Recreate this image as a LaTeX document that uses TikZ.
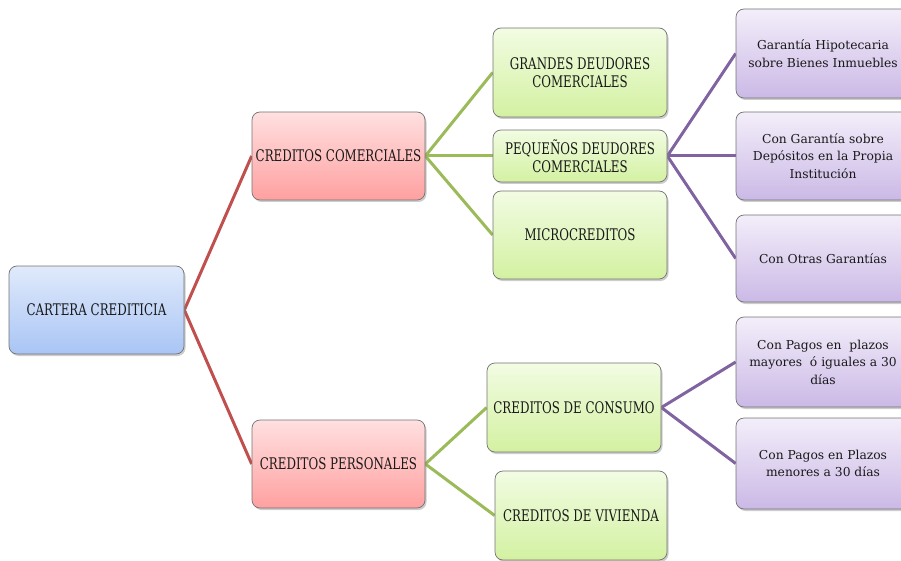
\documentclass[tikz,border=0pt]{standalone}
\usepackage{fontspec}
\setmainfont{DejaVu Serif}
\newfontfamily\capsfont[FakeStretch=0.74]{DejaVu Serif}
\usetikzlibrary{shadows,backgrounds}
\definecolor{bluetop}{HTML}{E0EAFB}
\definecolor{bluebot}{HTML}{A9C5F5}
\definecolor{redtop}{HTML}{FFE0E0}
\definecolor{redbot}{HTML}{FFA0A0}
\definecolor{greentop}{HTML}{F2FCE3}
\definecolor{greenbot}{HTML}{D3F1A1}
\definecolor{purptop}{HTML}{F3EEFA}
\definecolor{purpbot}{HTML}{CBB9E6}
\definecolor{redline}{HTML}{C0504D}
\definecolor{greenline}{HTML}{9BBB59}
\definecolor{purpline}{HTML}{8064A2}
\tikzset{
  box/.style={rectangle, rounded corners=8pt, draw=black!55, line width=0.7pt,
    inner sep=0pt, align=center, text=black!90,
    drop shadow={opacity=0.4, shadow xshift=1.5pt, shadow yshift=-2pt}},
  capsbox/.style={box, font=\capsfont\fontsize{16}{18}\selectfont},
  lowbox/.style={box, font=\fontsize{12.3}{17.5}\selectfont},
  bluebox/.style={capsbox, top color=bluetop, bottom color=bluebot},
  redbox/.style={capsbox, top color=redtop, bottom color=redbot},
  greenbox/.style={capsbox, top color=greentop, bottom color=greenbot},
  purpbox/.style={lowbox, top color=purptop, bottom color=purpbot},
  redcon/.style={draw=redline, line width=3pt},
  greencon/.style={draw=greenline, line width=3pt},
  purpcon/.style={draw=purpline, line width=3pt},
}
\begin{document}
\begin{tikzpicture}[x=1pt,y=-1pt]
\clip (0,0) rectangle (901,561);
\node[bluebox, minimum width=175pt, minimum height=88pt] (root) at (96.5,310) {CARTERA CREDITICIA};
\node[redbox, minimum width=173pt, minimum height=88pt] (com) at (338.5,156) {CREDITOS COMERCIALES};
\node[redbox, minimum width=173pt, minimum height=88pt] (per) at (338.5,464) {CREDITOS PERSONALES};
\node[greenbox, minimum width=174pt, minimum height=89pt] (gra) at (580,72.5) {GRANDES DEUDORES\\COMERCIALES};
\node[greenbox, minimum width=174pt, minimum height=52pt] (peq) at (580,156) {PEQUEÑOS DEUDORES\\COMERCIALES};
\node[greenbox, minimum width=174pt, minimum height=88pt] (mic) at (580,235) {MICROCREDITOS};
\node[greenbox, minimum width=174pt, minimum height=89pt] (con) at (574,407.5) {CREDITOS DE CONSUMO};
\node[greenbox, minimum width=172pt, minimum height=89pt] (viv) at (581,515.5) {CREDITOS DE VIVIENDA};
\node[purpbox, minimum width=174pt, minimum height=89pt] (hip) at (823,53.5) {Garantía Hipotecaria\\sobre Bienes Inmuebles};
\node[purpbox, minimum width=174pt, minimum height=88pt] (dep) at (823,156) {Con Garantía sobre\\Depósitos en la Propia\\Institución};
\node[purpbox, minimum width=174pt, minimum height=87pt] (otr) at (823,258.5) {Con Otras Garantías};
\node[purpbox, minimum width=174pt, minimum height=90pt] (may) at (823,362) {Con Pagos en\ \ plazos\\mayores\ \ ó iguales a 30\\días};
\node[purpbox, minimum width=174pt, minimum height=91pt] (men) at (823,463.5) {Con Pagos en Plazos\\menores a 30 días};
\begin{scope}[on background layer]
\draw[redcon] (root.east) -- (com.west);
\draw[redcon] (root.east) -- (per.west);
\draw[greencon] (com.east) -- (gra.west);
\draw[greencon] (com.east) -- (peq.west);
\draw[greencon] (com.east) -- (mic.west);
\draw[greencon] (per.east) -- (con.west);
\draw[greencon] (per.east) -- (viv.west);
\draw[purpcon] (peq.east) -- (hip.west);
\draw[purpcon] (peq.east) -- (dep.west);
\draw[purpcon] (peq.east) -- (otr.west);
\draw[purpcon] (con.east) -- (may.west);
\draw[purpcon] (con.east) -- (men.west);
\end{scope}
\end{tikzpicture}
\end{document}
